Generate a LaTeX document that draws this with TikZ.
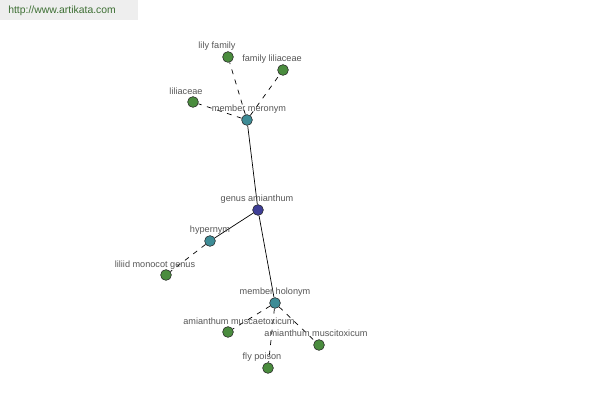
\documentclass[tikz,border=0pt]{standalone}
\usepackage{fontspec}
\setmainfont{Liberation Sans}
\usetikzlibrary{positioning}

\definecolor{leafgreen}{RGB}{74,140,62}
\definecolor{relteal}{RGB}{62,140,150}
\definecolor{rootblue}{RGB}{62,62,150}
\definecolor{labelgray}{RGB}{85,85,85}
\definecolor{bannergray}{RGB}{238,238,238}
\definecolor{bannertext}{RGB}{60,110,50}

\begin{document}
\begin{tikzpicture}[x=0.025cm,y=-0.025cm,
		sense/.style={circle, draw=black!85, line width=0.4pt, inner sep=0pt, minimum size=0.27cm},
		sense-root/.style={sense, fill=rootblue},
		sense-rel/.style={sense, fill=relteal},
		sense-leaf/.style={sense, fill=leafgreen},
		tag/.style={font=\fontsize{6.5}{7}\selectfont, text=labelgray, inner sep=0pt},
		link/.style={line width=0.5pt},
		weak-link/.style={line width=0.5pt, dash pattern=on 3.5pt off 4pt},
		]

		% frame and banner
		\useasboundingbox (0,0) rectangle (600,400);
		\fill[bannergray] (0,0) rectangle (138,20);
		\node[font=\fontsize{7.4}{8}\selectfont, text=bannertext, anchor=west, inner sep=0pt] (banner) at (8,11) {http://www.artikata.com};

		% senses
		\node[sense-root] (amianthum) at (258,210) {};
		\node[sense-rel]  (meronym)   at (247,120) {};
		\node[sense-rel]  (hypernym)  at (210,241) {};
		\node[sense-rel]  (holonym)   at (275,303) {};

		\node[sense-leaf] (lily)      at (228,57)  {};
		\node[sense-leaf] (famlil)    at (283,70)  {};
		\node[sense-leaf] (liliaceae) at (193,102) {};
		\node[sense-leaf] (liliid)    at (166,275) {};
		\node[sense-leaf] (muscae)    at (228,332) {};
		\node[sense-leaf] (muscit)    at (319,345) {};
		\node[sense-leaf] (flypoison) at (268,368) {};

		% links
		\draw[link] (amianthum) -- (meronym);
		\draw[link] (amianthum) -- (hypernym);
		\draw[link] (amianthum) -- (holonym);
		\draw[weak-link] (meronym) -- (lily);
		\draw[weak-link] (meronym) -- (famlil);
		\draw[weak-link] (meronym) -- (liliaceae);
		\draw[weak-link] (hypernym) -- (liliid);
		\draw[weak-link] (holonym) -- (muscae);
		\draw[weak-link] (holonym) -- (muscit);
		\draw[weak-link] (holonym) -- (flypoison);

		% tags
		\node[tag] (amianthum-tag) at (257,199) {genus amianthum};
		\node[tag] (meronym-tag)   at (249,109) {member meronym};
		\node[tag] (hypernym-tag)  at (210,230) {hypernym};
		\node[tag] (holonym-tag)   at (275,292) {member holonym};
		\node[tag] (lily-tag)      at (217,46)  {lily family};
		\node[tag] (famlil-tag)    at (272,59)  {family liliaceae};
		\node[tag] (liliaceae-tag) at (186,91)  {liliaceae};
		\node[tag] (liliid-tag)    at (155,265) {liliid monocot genus};
		\node[tag] (muscae-tag)    at (239,321) {amianthum muscaetoxicum};
		\node[tag] (muscit-tag)    at (316,333) {amianthum muscitoxicum};
		\node[tag] (flypoison-tag) at (262,357) {fly poison};

	\end{tikzpicture}
\end{document}
